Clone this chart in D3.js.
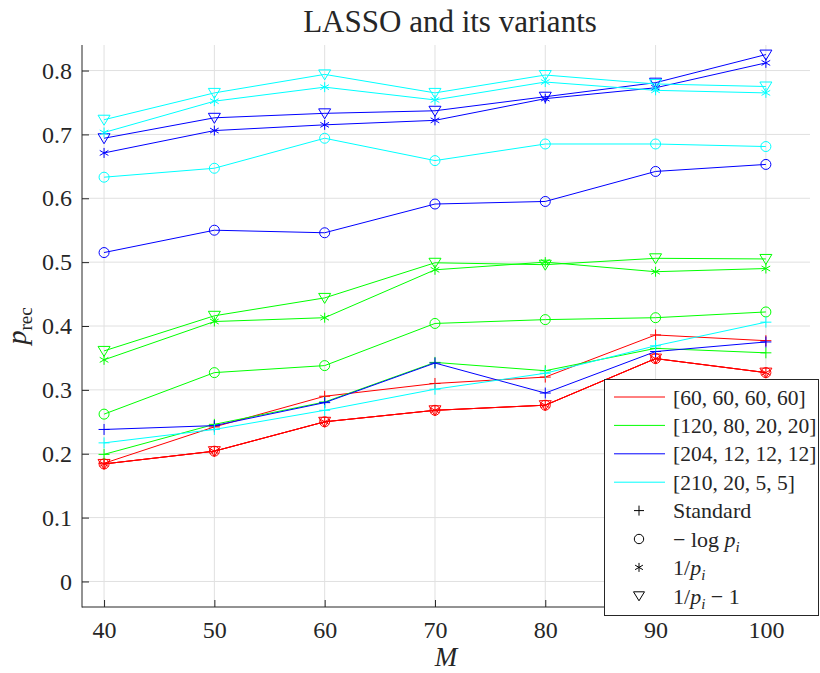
<!DOCTYPE html>
<html>
<head>
<meta charset="utf-8">
<script src="https://cdn.jsdelivr.net/npm/d3@7"></script>
<style>
  body { margin: 0; background: #fff; }
  text { font-family: "Liberation Serif", "Times New Roman", "DejaVu Serif", serif; fill: #262626; }
</style>
</head>
<body>
<div id="viz"></div>
<script>
// M values on the x axis
var M = [40, 50, 60, 70, 80, 90, 100];
var yTicks = [0, 0.1, 0.2, 0.3, 0.4, 0.5, 0.6, 0.7, 0.8];

var weightLabels = ["[60, 60, 60, 60]", "[120, 80, 20, 20]", "[204, 12, 12, 12]", "[210, 20, 5, 5]"];
var weightColors = ["#ff0000", "#00ff00", "#0000ff", "#00ffff"];
var markerNames = ["plus", "circle", "asterisk", "triangle"];

// p_rec, weights [60,60,60,60]
var w1Standard = [0.185, 0.242, 0.290, 0.310, 0.320, 0.386, 0.377];
var w1Log      = [0.184, 0.204, 0.250, 0.268, 0.276, 0.349, 0.327];
var w1Inv      = [0.184, 0.204, 0.250, 0.268, 0.276, 0.349, 0.327];
var w1InvM1    = [0.184, 0.204, 0.250, 0.268, 0.276, 0.349, 0.327];
// weights [120,80,20,20]
var w2Standard = [0.199, 0.246, 0.281, 0.343, 0.330, 0.365, 0.358];
var w2Log      = [0.262, 0.327, 0.338, 0.404, 0.410, 0.413, 0.422];
var w2Inv      = [0.347, 0.407, 0.413, 0.488, 0.500, 0.485, 0.490];
var w2InvM1    = [0.361, 0.416, 0.444, 0.499, 0.496, 0.506, 0.505];
// weights [204,12,12,12]
var w3Standard = [0.238, 0.244, 0.280, 0.342, 0.295, 0.360, 0.375];
var w3Log      = [0.515, 0.550, 0.546, 0.591, 0.595, 0.642, 0.653];
var w3Inv      = [0.671, 0.706, 0.715, 0.722, 0.756, 0.773, 0.812];
var w3InvM1    = [0.694, 0.726, 0.733, 0.737, 0.759, 0.781, 0.825];
// weights [210,20,5,5]
var w4Standard = [0.217, 0.238, 0.268, 0.301, 0.326, 0.369, 0.406];
var w4Log      = [0.633, 0.647, 0.694, 0.659, 0.685, 0.685, 0.681];
var w4Inv      = [0.703, 0.752, 0.774, 0.754, 0.782, 0.769, 0.765];
var w4InvM1    = [0.723, 0.765, 0.794, 0.765, 0.793, 0.779, 0.775];

var series = [
  [w1Standard, w1Log, w1Inv, w1InvM1],
  [w2Standard, w2Log, w2Inv, w2InvM1],
  [w3Standard, w3Log, w3Inv, w3InvM1],
  [w4Standard, w4Log, w4Inv, w4InvM1]
];

var W = 820, H = 673;
var axL = 82, axR = 810, axT = 45, axB = 607;

var svg = d3.select("#viz").append("svg")
    .attr("width", W)
    .attr("height", H);

var x = d3.scaleLinear().domain([38, 104]).range([axL, axR]);
var y = d3.scaleLinear().domain([-0.04, 0.84]).range([axB, axT]);

// grid
svg.append("g").selectAll("line")
    .data(M).enter().append("line")
    .attr("x1", function(d) { return x(d); })
    .attr("x2", function(d) { return x(d); })
    .attr("y1", axT).attr("y2", axB)
    .style("stroke", "#e0e0e0").style("stroke-width", 1);
svg.append("g").selectAll("line")
    .data(yTicks).enter().append("line")
    .attr("y1", function(d) { return y(d); })
    .attr("y2", function(d) { return y(d); })
    .attr("x1", axL).attr("x2", axR)
    .style("stroke", "#e0e0e0").style("stroke-width", 1);

// axes
var xAxis = d3.axisBottom(x).tickValues(M).tickSizeInner(-7).tickSizeOuter(0).tickPadding(14);
var yAxis = d3.axisLeft(y).tickValues(yTicks).tickSizeInner(-7).tickSizeOuter(0).tickPadding(10)
    .tickFormat(function(d) { return d === 0 ? "0" : d.toFixed(1); });

var gx = svg.append("g").attr("transform", "translate(0," + axB + ")").call(xAxis);
var gy = svg.append("g").attr("transform", "translate(" + axL + ",0)").call(yAxis);
[gx, gy].forEach(function(g) {
    g.select(".domain").remove();
    g.selectAll(".tick line").style("stroke", "#262626");
    g.selectAll("text").style("font-family", "Liberation Serif, serif").style("font-size", "24px").style("fill", "#262626");
});
svg.append("line").attr("x1", axL).attr("x2", axL).attr("y1", axT).attr("y2", axB + 0.5)
    .style("stroke", "#262626").style("stroke-width", 1);
svg.append("line").attr("x1", axL).attr("x2", axR).attr("y1", axB).attr("y2", axB)
    .style("stroke", "#262626").style("stroke-width", 1);

// markers
function markerPath(name) {
    if (name == "plus") return "M-5.5,0H5.5M0,-5.5V5.5";
    if (name == "circle") return d3.symbol(d3.symbolCircle, Math.PI * 25)();
    if (name == "asterisk") return "M0,-5V5M-4.33,-2.5L4.33,2.5M-4.33,2.5L4.33,-2.5";
    return "M-6,-4.5L6,-4.5L0,5.5Z";
}

var line = d3.line()
    .x(function(d, i) { return x(M[i]); })
    .y(function(d) { return y(d); });

series.forEach(function(group, w) {
    group.forEach(function(vals, k) {
        var g = svg.append("g");
        g.append("path")
            .attr("d", line(vals))
            .style("fill", "none")
            .style("stroke", weightColors[w])
            .style("stroke-width", 1);
        g.selectAll("path.m")
            .data(vals).enter().append("path")
            .attr("class", "m")
            .attr("d", markerPath(markerNames[k]))
            .attr("transform", function(d, i) { return "translate(" + x(M[i]) + "," + y(d) + ")"; })
            .style("fill", "none")
            .style("stroke", weightColors[w])
            .style("stroke-width", 1);
    });
});

// title and axis labels
svg.append("text")
    .attr("x", 450).attr("y", 32)
    .attr("text-anchor", "middle")
    .style("font-size", "31px")
    .text("LASSO and its variants");

svg.append("text")
    .attr("x", 446).attr("y", 666)
    .attr("text-anchor", "middle")
    .style("font-size", "27px")
    .style("font-style", "italic")
    .text("M");

var yl = svg.append("text")
    .attr("transform", "translate(26,326) rotate(-90)")
    .attr("text-anchor", "middle")
    .style("font-size", "28px");
yl.append("tspan").style("font-style", "italic").text("p");
yl.append("tspan").attr("dy", 6).style("font-size", "19px").text("rec");

// legend
var lg = svg.append("g");
lg.append("rect")
    .attr("x", 604.5).attr("y", 379.5)
    .attr("width", 214).attr("height", 236)
    .style("fill", "#fff")
    .style("stroke", "#262626")
    .style("stroke-width", 1);

var rowY = function(i) { return 397 + 28.4 * i; };
weightLabels.forEach(function(lab, i) {
    lg.append("line")
        .attr("x1", 614).attr("x2", 665)
        .attr("y1", rowY(i)).attr("y2", rowY(i))
        .style("stroke", weightColors[i]).style("stroke-width", 1);
    lg.append("text")
        .attr("x", 673).attr("y", rowY(i)).attr("dy", "0.35em")
        .style("font-size", "21.5px")
        .text(lab);
});

var variantParts = [
  [["Standard", "normal"]],
  [["\u2212 log ", "normal"], ["p", "italic"], ["i", "sub"]],
  [["1/", "normal"], ["p", "italic"], ["i", "sub"]],
  [["1/", "normal"], ["p", "italic"], ["i", "sub"], [" \u2212 1", "normal"]]
];
var legendMarkers = ["M-5,0H5M0,-5V5", d3.symbol(d3.symbolCircle, Math.PI * 22)(),
    "M0,-4.5V4.5M-3.9,-2.25L3.9,2.25M-3.9,2.25L3.9,-2.25", "M-5.5,-4L5.5,-4L0,5Z"];
variantParts.forEach(function(parts, k) {
    var yy = rowY(4 + k);
    lg.append("path")
        .attr("d", legendMarkers[k])
        .attr("transform", "translate(639," + yy + ")")
        .style("fill", "none").style("stroke", "#000").style("stroke-width", 1);
    var t = lg.append("text")
        .attr("x", 673).attr("y", yy).attr("dy", "0.35em")
        .style("font-size", "22px");
    var shifted = false;
    parts.forEach(function(p) {
        var ts = t.append("tspan").text(p[0]);
        if (p[1] == "italic") ts.style("font-style", "italic");
        if (p[1] == "sub") {
            ts.style("font-style", "italic").style("font-size", "15px").attr("dy", 5);
            shifted = true;
        } else if (shifted) {
            ts.attr("dy", -5);
            shifted = false;
        }
    });
});
</script>
</body>
</html>
